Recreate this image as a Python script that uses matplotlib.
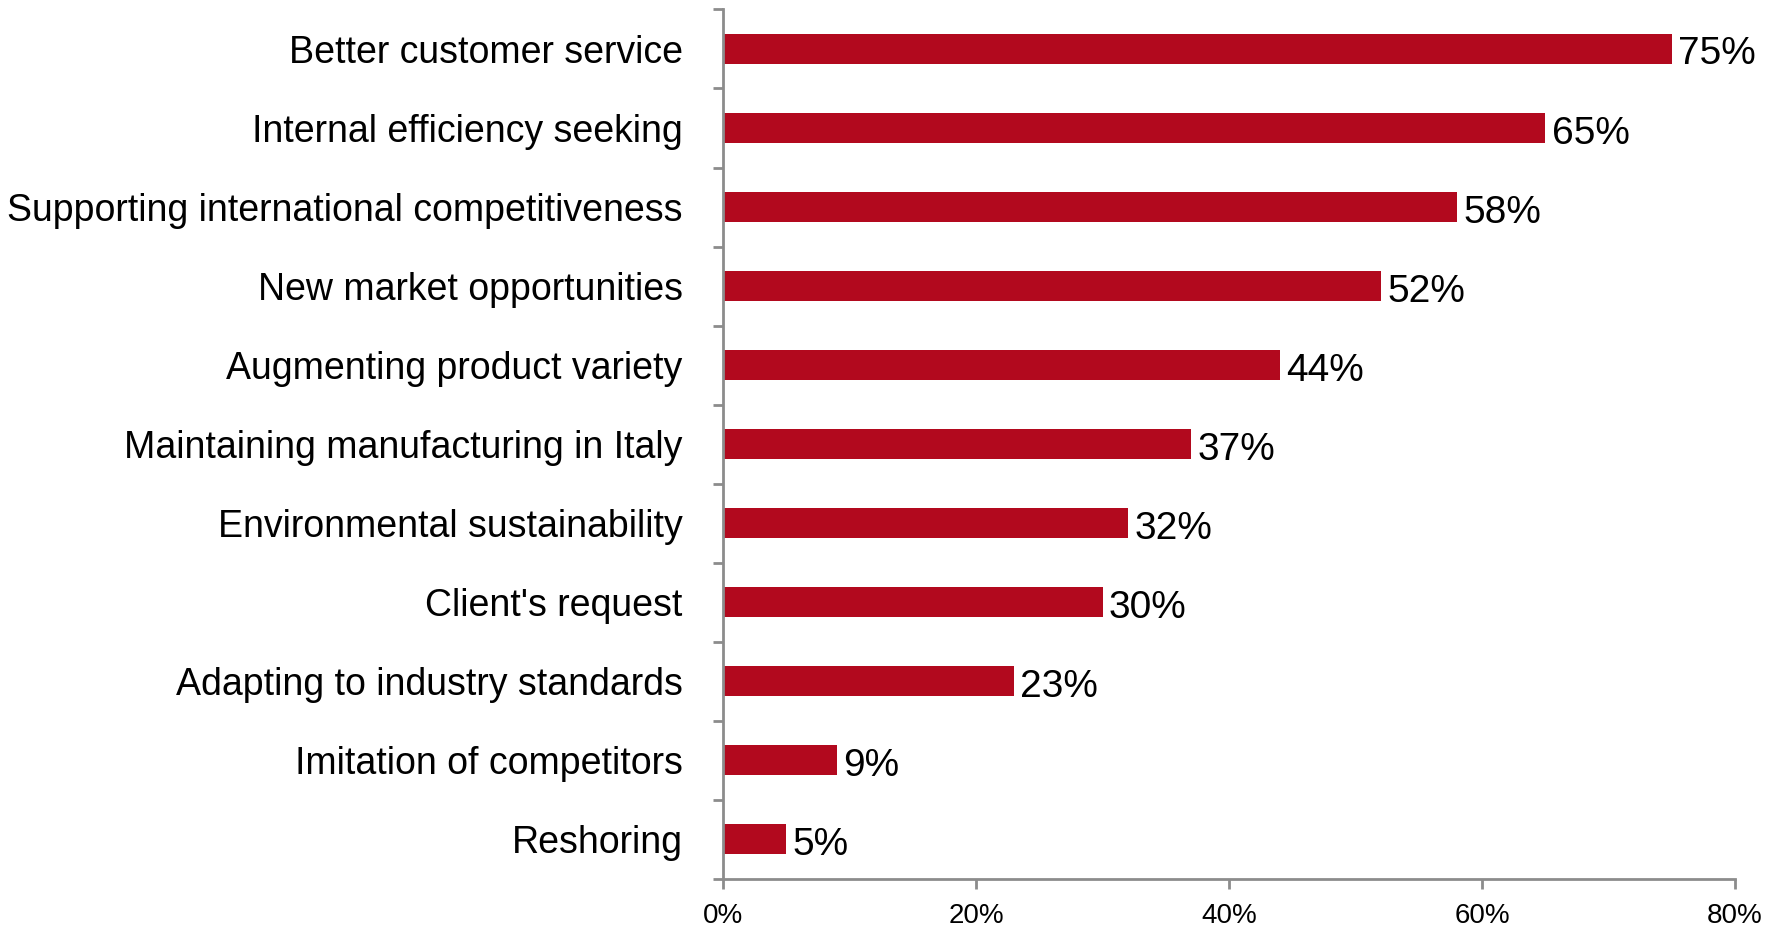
import matplotlib.pyplot as plt
import numpy as np
from matplotlib.ticker import FixedLocator, PercentFormatter

plt.rcParams['font.family'] = ['Liberation Sans', 'DejaVu Sans']

# Motivations, ordered top to bottom as plotted
reasons = [
    "Better customer service",
    "Internal efficiency seeking",
    "Supporting international competitiveness",
    "New market opportunities",
    "Augmenting product variety",
    "Maintaining manufacturing in Italy",
    "Environmental sustainability",
    "Client's request",
    "Adapting to industry standards",
    "Imitation of competitors",
    "Reshoring",
]
shares = [75, 65, 58, 52, 44, 37, 32, 30, 23, 9, 5]

bar_color = '#B2091E'
axis_color = '#8C8C8C'

fig = plt.figure(figsize=(17.79, 9.33), dpi=100)
ax = fig.add_axes([0.4064, 0.0579, 0.5689, 0.9320])

y = np.arange(len(reasons))
ax.barh(y, shares, height=0.38, color=bar_color)
for yi, v in zip(y, shares):
    ax.text(v + 0.5, yi + 0.07, f"{v}%", va='center', ha='left', fontsize=28)

ax.set_ylim(len(reasons) - 0.5, -0.5)
ax.set_xlim(0, 80)
ax.set_xticks([0, 20, 40, 60, 80])
ax.xaxis.set_major_formatter(PercentFormatter(decimals=0))

ax.set_yticks(y)
ax.set_yticklabels(reasons, fontsize=27)
ax.yaxis.set_minor_locator(FixedLocator(np.arange(-0.5, len(reasons), 1.0)))
ax.tick_params(axis='y', which='major', length=0, pad=29)
ax.tick_params(axis='y', which='minor', length=7, width=2, color=axis_color)
ax.tick_params(axis='x', length=7, width=2, color=axis_color, labelsize=20, pad=10)

for side in ['top', 'right']:
    ax.spines[side].set_visible(False)
for side in ['left', 'bottom']:
    ax.spines[side].set_color(axis_color)
    ax.spines[side].set_linewidth(2)

fig.savefig('out.png', dpi=100)
